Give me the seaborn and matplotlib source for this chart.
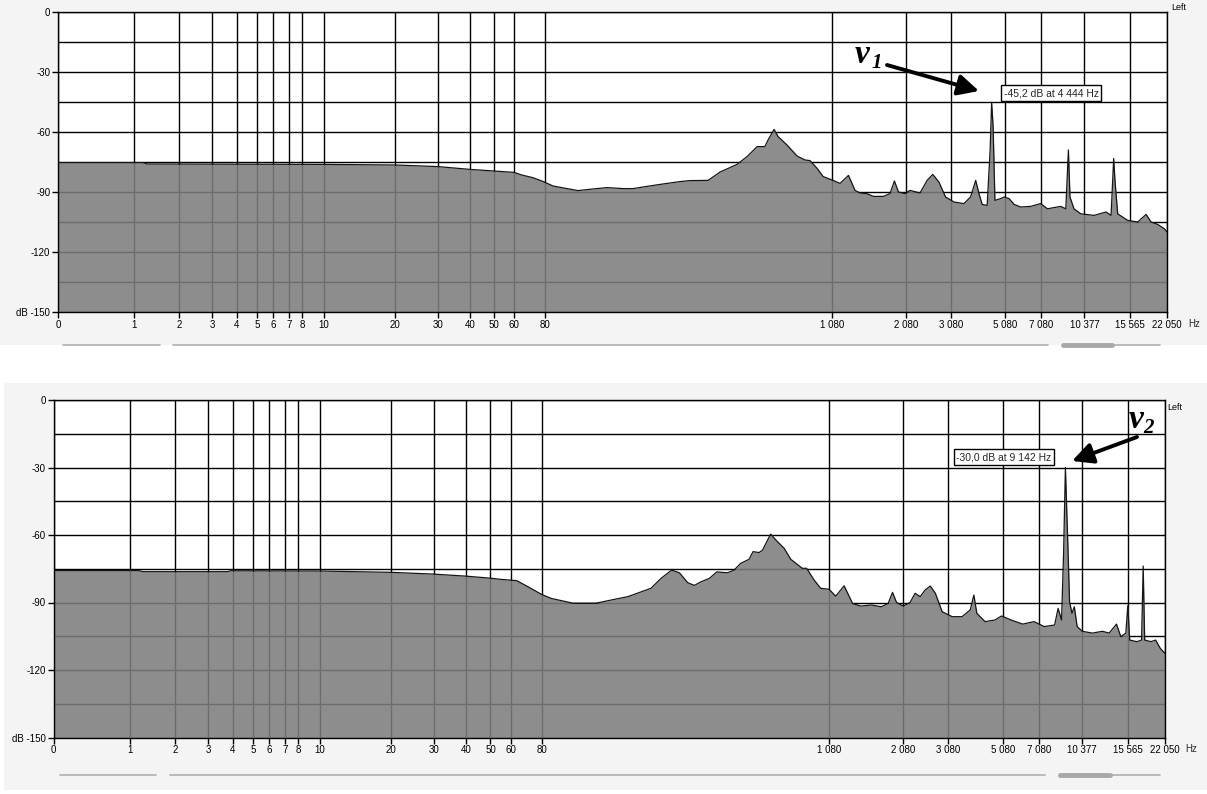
import numpy as np
import matplotlib
matplotlib.use("Agg")
import matplotlib.pyplot as plt
from matplotlib.patches import Rectangle, FancyArrowPatch
from matplotlib.lines import Line2D
import seaborn as sns

# ---------------- data ----------------
TICK_HZ = [0, 1, 2, 3, 4, 5, 6, 7, 8, 10, 20, 30, 40, 50, 60, 80,
           1080, 2080, 3080, 5080, 7080, 10377, 15565, 22050]
TICK_LABELS = ["0", "1", "2", "3", "4", "5", "6", "7", "8", "10", "20", "30",
               "40", "50", "60", "80", "1 080", "2 080", "3 080", "5 080",
               "7 080", "10 377", "15 565", "22 050"]
Y_TICKS = [0, -30, -60, -90, -120, -150]
Y_LABELS = ["0", "-30", "-60", "-90", "-120", "dB -150"]

TOP_HZ = [0, 1.2, 1.3, 10, 20, 30, 40, 50, 60, 62, 65, 72, 79, 108, 157, 195, 247,
          296, 352, 387, 435, 481, 550, 585, 648, 690, 749, 784, 819, 846, 857,
          878, 892, 923, 958, 986, 1003, 1028, 1049, 1080, 1188, 1302, 1391,
          1458, 1550, 1639, 1776, 1864, 1924, 1979, 2066, 2170, 2395, 2552,
          2678, 2815, 2965, 3197, 3564, 3810, 3998, 4119, 4236, 4420, 4530,
          4585, 4640, 4706, 4915, 5043, 5302, 5580, 5947, 6502, 7063, 7565,
          8573, 8960, 9157, 9278, 9581, 10096, 11472, 12856, 13432, 13732,
          13894, 14193, 15346, 16983, 18418, 19282, 20441, 21599, 22050]
TOP_DB = [-75.3, -75.3, -76.0, -76.2, -76.5, -77.3, -78.7, -79.5, -80.2, -80.7,
          -81.5, -82.8, -84.8, -87.0, -88.3, -89.3, -88.5, -87.8, -88.3, -88.3,
          -87.2, -86.2, -84.8, -84.3, -84.2, -80.0, -76.2, -72.3, -67.3, -67.3,
          -64.0, -58.7, -62.3, -66.5, -72.0, -74.0, -74.3, -78.2, -82.3, -84.0,
          -85.7, -81.7, -89.2, -90.5, -90.8, -92.2, -92.2, -90.8, -84.5, -90.0,
          -90.8, -89.2, -90.5, -84.2, -81.2, -85.0, -92.5, -95.0, -95.8, -92.5,
          -84.2, -90.8, -96.2, -96.7, -69.0, -45.2, -57.4, -94.2, -93.3, -92.5,
          -93.3, -96.2, -97.5, -97.2, -95.8, -98.4, -97.2, -98.4, -69.0, -92.5,
          -98.4, -100.9, -101.7, -100.0, -101.7, -73.3, -85.0, -100.9, -104.2,
          -105.0, -101.2, -105.0, -106.2, -108.4, -110.0]

BOT_HZ = [0, 1.2, 1.3, 3.8, 3.9, 10, 20, 30, 40, 50, 55, 64, 71, 80, 114, 189,
          270, 322, 380, 460, 495, 532, 559, 588, 611, 634, 663, 689, 726, 749,
          772, 801, 815, 836, 848, 876, 900, 923, 946, 986, 1001, 1027, 1050,
          1079, 1166, 1280, 1395, 1509, 1646, 1783, 1875, 1934, 1988, 2080,
          2229, 2342, 2455, 2567, 2680, 2793, 2944, 3225, 3586, 3887, 4020,
          4129, 4429, 4791, 5033, 5554, 6192, 6824, 7496, 8281, 8548, 8807,
          8964, 9098, 9256, 9413, 9593, 9774, 9986, 10377, 11530, 12684, 13456,
          14298, 14794, 15369, 15614, 15938, 17187, 17997, 18273, 18532, 19618,
          20428, 21239, 22050]
BOT_DB = [-75.8, -75.8, -76.3, -76.3, -75.9, -76.0, -76.6, -77.4, -78.3, -79.2,
          -79.7, -80.3, -82.9, -86.4, -88.2, -90.3, -90.3, -88.9, -87.4, -83.7,
          -79.3, -75.6, -76.8, -81.2, -82.4, -80.8, -79.3, -76.4, -76.8, -75.6,
          -72.6, -70.8, -67.4, -67.8, -66.7, -59.6, -63.0, -65.9, -70.8, -74.8,
          -74.8, -80.0, -83.7, -84.1, -87.2, -82.6, -90.5, -91.6, -91.1, -91.9,
          -90.4, -85.5, -90.0, -91.6, -90.0, -85.9, -87.4, -84.4, -82.7, -85.9,
          -94.1, -96.3, -96.3, -93.3, -86.7, -94.8, -98.5, -97.8, -96.0, -97.8,
          -99.6, -98.5, -100.7, -100.0, -92.6, -97.8, -67.4, -30.0, -59.2, -89.6,
          -94.8, -91.9, -100.7, -102.8, -103.6, -102.8, -103.6, -99.6, -105.2,
          -103.6, -91.4, -106.7, -107.4, -106.7, -73.8, -106.7, -107.4, -106.7,
          -110.4, -112.6]

PEAK1_TEXT = "-45,2 dB at 4 444 Hz"
PEAK2_TEXT = "-30,0 dB at 9 142 Hz"

# ---------------- axis scale (display position of each tick) ----------------
AXIS_POS = [0, 0.0685, 0.1091, 0.1389, 0.1614, 0.1794, 0.1939, 0.2083, 0.2200,
            0.2399, 0.3039, 0.3427, 0.3715, 0.3931, 0.4112, 0.4391, 0.6980,
            0.7646, 0.8050, 0.8540, 0.8864, 0.9256, 0.9663, 1.0]


def fwd(f):
    return np.interp(np.asarray(f, dtype=float), TICK_HZ, AXIS_POS)


def inv(p):
    return np.interp(np.asarray(p, dtype=float), AXIS_POS, TICK_HZ)


sns.set_theme(style="white")
plt.rcParams["font.family"] = ["Liberation Sans", "DejaVu Sans"]

W, H = 1207, 794
fig = plt.figure(figsize=(W / 100, H / 100), dpi=100, facecolor="white")


def P(x, y):
    return (x / W, 1 - y / H)


# screenshot backgrounds (behind everything)
for (x0, y0, x1, y1) in [(0, 0, 1207, 345), (4, 383, 1207, 790)]:
    fig.patches.append(Rectangle(P(x0, y1), (x1 - x0) / W, (y1 - y0) / H,
                                 transform=fig.transFigure, fc="#f4f4f4",
                                 ec="none", zorder=-10))

FILL = (0.49, 0.49, 0.49)


def setup(ax, hz, db):
    ax.set_zorder(1)
    ax.set_facecolor("white")
    ax.set_xscale("function", functions=(fwd, inv))
    ax.set_xlim(0, 22050)
    ax.set_ylim(-150, 0)
    ax.set_xticks(TICK_HZ)
    ax.set_xticklabels(TICK_LABELS)
    ax.set_yticks(Y_TICKS)
    ax.set_yticklabels(Y_LABELS)
    ax.set_yticks(np.arange(-135, 0, 30), minor=True)
    ax.xaxis.set_minor_locator(matplotlib.ticker.NullLocator())
    ax.grid(True, which="both", axis="y", color="black", lw=1)
    ax.grid(True, which="major", axis="x", color="black", lw=1)
    ax.set_axisbelow(True)
    ax.tick_params(which="major", bottom=True, left=True, direction="out",
                   length=4, width=1, color="black", labelsize=7, pad=1.5,
                   labelcolor="black")
    ax.tick_params(which="minor", left=False, length=0)
    for s in ax.spines.values():
        s.set_color("black")
        s.set_linewidth(1)
        s.set_visible(True)
    ax.fill_between(hz, db, -150, color=FILL, alpha=0.88, lw=0, zorder=2)
    sns.lineplot(x=hz, y=db, ax=ax, color="#151515", lw=0.9, zorder=3,
                 sort=False, estimator=None)
    ax.set_xlabel("")
    ax.set_ylabel("")


ax_top = fig.add_axes([58 / W, 1 - 312 / H, 1109 / W, 300 / H])
setup(ax_top, TOP_HZ, TOP_DB)
ax_bot = fig.add_axes([53.5 / W, 1 - 737.5 / H, 1111.5 / W, 337.5 / H])
setup(ax_bot, BOT_HZ, BOT_DB)

# side texts
small = dict(fontsize=6.5, color="black", transform=fig.transFigure, zorder=5)
fig.text(*P(1171, 3), "Left", ha="left", va="top", **small)
fig.text(*P(1167, 403), "Left", ha="left", va="top", **small)
fig.text(*P(1188, 319), "Hz", ha="left", va="top", fontsize=7,
         transform=fig.transFigure, zorder=5)
fig.text(*P(1185, 744), "Hz", ha="left", va="top", fontsize=7,
         transform=fig.transFigure, zorder=5)


# scroll-bar like decorations
def hline(x0, x1, y, color="#b0b0b0", lw=1.2):
    fig.add_artist(Line2D([x0 / W, x1 / W], [1 - y / H, 1 - y / H],
                          transform=fig.transFigure, color=color, lw=lw,
                          zorder=5))


for y, segs in [(345, [(63, 160), (173, 1048), (1112, 1160)]),
                (775, [(60, 156), (170, 1045), (1110, 1160)])]:
    for a, b in segs:
        hline(a, b, y)
hline(1063, 1112, 345, color="#a8a8a8", lw=3.5)
hline(1060, 1110, 775, color="#a8a8a8", lw=3.5)

# peak boxes
box = dict(boxstyle="square,pad=0.25", fc="white", ec="black", lw=1)
fig.text(*P(1051, 93), PEAK1_TEXT, ha="center", va="center", fontsize=7.5,
         bbox=box, transform=fig.transFigure, zorder=6)
fig.text(*P(1004, 457), PEAK2_TEXT, ha="center", va="center", fontsize=7.5,
         bbox=box, transform=fig.transFigure, zorder=6)

# v labels
vfont = dict(family=["Liberation Serif", "DejaVu Serif"], weight="bold",
             style="italic", color="black", transform=fig.transFigure, zorder=6)
fig.text(*P(855, 63), "v", fontsize=24, va="baseline", ha="left", **vfont)
fig.text(*P(872, 68), "1", fontsize=15, va="baseline", ha="left", **vfont)
fig.text(*P(1129, 428), "v", fontsize=24, va="baseline", ha="left", **vfont)
fig.text(*P(1143, 433), "2", fontsize=15, va="baseline", ha="left", **vfont)

# arrows
arrow = dict(arrowstyle="-|>,head_length=0.9,head_width=0.45", lw=2.8,
             color="black", shrinkA=0, shrinkB=0, mutation_scale=14, zorder=6)
fig.add_artist(FancyArrowPatch(P(887, 65), P(979, 91),
                               transform=fig.transFigure, **arrow))
fig.add_artist(FancyArrowPatch(P(1137, 437), P(1072, 461),
                               transform=fig.transFigure, **arrow))

fig.savefig("out.png", dpi=100, facecolor=fig.get_facecolor())
